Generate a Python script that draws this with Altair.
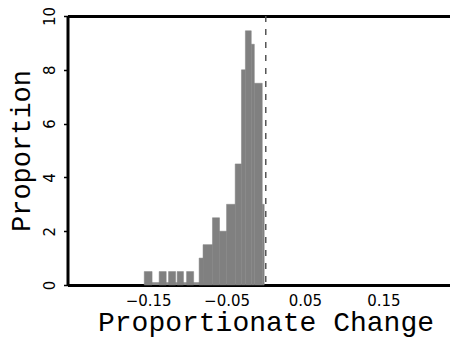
import altair as alt
import pandas as pd

# Histogram bars (density scale)
bin_start = [-0.155, -0.136, -0.124, -0.113, -0.101, -0.085, -0.080, -0.068,
             -0.059, -0.050, -0.039, -0.031, -0.026, -0.0185, -0.0146, -0.0045]
bin_end = [-0.145, -0.127, -0.115, -0.105, -0.092, -0.080, -0.068, -0.059,
           -0.050, -0.039, -0.031, -0.026, -0.0185, -0.0146, -0.0045, -0.002]
proportion = [0.5, 0.5, 0.5, 0.5, 0.5, 1.0, 1.5, 2.5,
              2.0, 3.0, 4.5, 8.0, 9.45, 8.95, 7.5, 3.0]

# Empty bins drawn as a flat outline at the baseline
empty_start = [-0.152]
empty_end = [-0.075]
empty_height = [0.1]

# Reference line
ref_x = [0.0]

x_ticks = [-0.15, -0.05, 0.05, 0.15]
y_ticks = [0, 2, 4, 6, 8, 10]

bars = pd.DataFrame({"x0": bin_start, "x1": bin_end, "y": proportion})
empty = pd.DataFrame({"x0": empty_start, "x1": empty_end, "y": empty_height})
ref = pd.DataFrame({"x": ref_x})

W, H = 382.5, 269
xscale = alt.Scale(domain=[-0.2529, 0.2350], nice=False, zero=False)
yscale = alt.Scale(domain=[0, 10], nice=False)

xaxis = alt.Axis(
    orient="bottom",
    values=x_ticks, format=".2f", domain=True, domainWidth=3,
    domainColor="black", ticks=False, grid=False,
    labelFont="DejaVu Sans", labelFontSize=15, labelColor="black",
    labelPadding=8, labelBaseline="top",
    title="Proportionate Change", titleFont="Liberation Mono", titleFontSize=28,
    titleFontWeight="normal", titleColor="black",
    titleX=(265.5 - 67.5), titleY=45, titleBaseline="alphabetic",
    titleAlign="center",
)
xaxis_top = alt.Axis(
    orient="top", domain=True, domainWidth=3, domainColor="black",
    ticks=False, labels=False, grid=False, title=None,
)
yaxis = alt.Axis(
    values=y_ticks, domain=True, domainWidth=3, domainColor="black",
    grid=False, ticks=True, tickSize=4, tickWidth=1.5, tickColor="black",
    labelFont="DejaVu Sans", labelFontSize=15, labelColor="black",
    labelAngle=270, labelAlign="center", labelBaseline="alphabetic",
    labelPadding=9,
    title="Proportion", titleFont="Liberation Mono", titleFontSize=27,
    titleFontWeight="normal", titleColor="black", titleAngle=270,
    titleX=-38.5, titleY=H / 2, titleBaseline="alphabetic", titleAlign="center",
)

zero = alt.Chart(empty).mark_rect(color="#8c8c8c").encode(
    x=alt.X("x0:Q", scale=xscale, axis=xaxis),
    x2="x1:Q",
    y=alt.Y("y:Q", scale=yscale, axis=yaxis),
    y2=alt.datum(0),
)

hist = alt.Chart(bars).mark_rect(color="#808080", stroke="#808080",
                                 strokeWidth=0.5).encode(
    x=alt.X("x0:Q", scale=xscale, axis=xaxis_top),
    x2="x1:Q",
    y=alt.Y("y:Q", scale=yscale, axis=yaxis),
    y2=alt.datum(0),
)

rule = alt.Chart(ref).mark_rule(color="#555555", strokeWidth=1.5,
                                strokeDash=[6, 7]).encode(
    x=alt.X("x:Q", scale=xscale, axis=None),
)

chart = alt.layer(zero, hist, rule).resolve_axis(x="independent").properties(
    width=W, height=H,
    autosize=alt.AutoSizeParams(type="none"),
    padding={"left": 59.5, "top": 8, "right": 0, "bottom": 54},
).configure(background="white").configure_view(stroke=None)

chart.save("out.html", embed_options={"renderer": "svg", "actions": False})
